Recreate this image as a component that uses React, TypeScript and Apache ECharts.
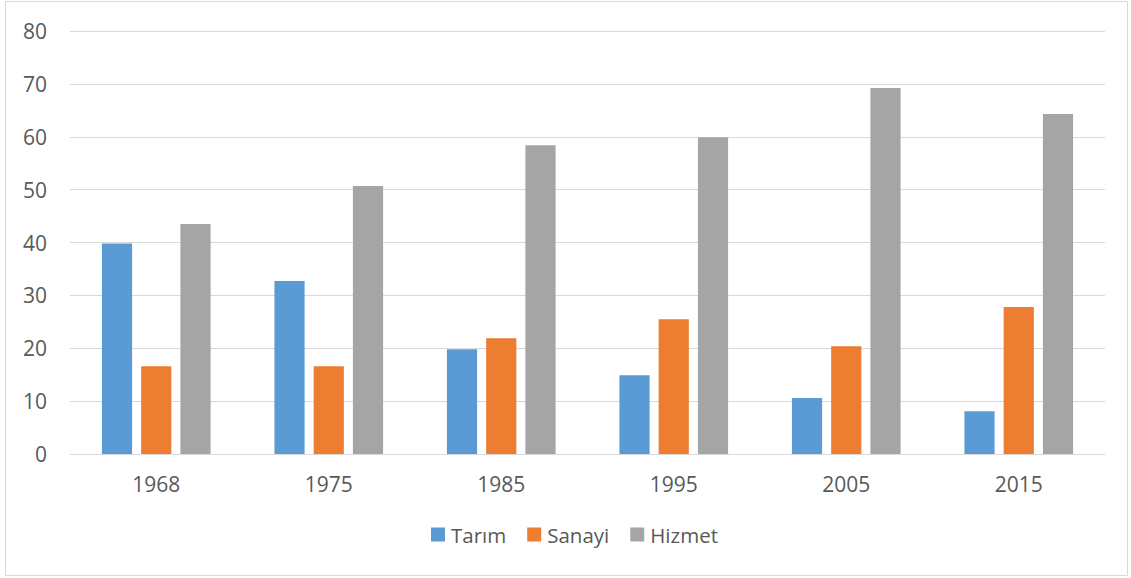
import React, { useEffect, useRef } from "react";
import * as echarts from "echarts";

const categories = ["1968", "1975", "1985", "1995", "2005", "2015"];
const tarim = [39.8, 32.7, 19.8, 14.9, 10.6, 8.1];
const sanayi = [16.6, 16.6, 21.9, 25.5, 20.4, 27.8];
const hizmet = [43.5, 50.7, 58.4, 59.9, 69.2, 64.3];

const FONT = "'Open Sans', 'Noto Sans', sans-serif";

export default function App() {
  const ref = useRef<HTMLDivElement>(null);
  useEffect(() => {
    const chart = echarts.init(ref.current!, undefined, { renderer: "svg" });
    const mk = (name: string, data: number[], color: string) => ({
      name,
      type: "bar",
      data,
      itemStyle: { color },
      barGap: "30%",
      barCategoryGap: "37%",
    });
    chart.setOption({
      animation: false,
      textStyle: { fontFamily: FONT },
      graphic: [
        {
          type: "rect",
          shape: { x: 5.5, y: 1.5, width: 1122, height: 574 },
          style: { fill: "none", stroke: "#d9d9d9", lineWidth: 1 },
          silent: true,
        },
      ],
      grid: { left: 70, right: 26, top: 31, bottom: 124 },
      legend: {
        bottom: 28,
        left: 426,
        padding: [5, 5, 5, 5],
        itemWidth: 14,
        itemHeight: 14,
        itemGap: 21,
        icon: "rect",
        textStyle: { color: "#595959", fontSize: 20.5, fontFamily: FONT, padding: [0, 0, 0, 1] },
        data: ["Tarım", "Sanayi", "Hizmet"],
      },
      xAxis: {
        type: "category",
        data: categories,
        axisLine: { lineStyle: { color: "#d9d9d9", width: 1 } },
        axisTick: { show: false },
        axisLabel: { color: "#595959", fontSize: 21, margin: 19, fontFamily: FONT },
      },
      yAxis: {
        type: "value",
        min: 0,
        max: 80,
        interval: 10,
        axisLine: { show: false },
        axisTick: { show: false },
        axisLabel: { color: "#595959", fontSize: 21, margin: 23, fontFamily: FONT },
        splitLine: { lineStyle: { color: "#d9d9d9", width: 1 } },
      },
      series: [
        mk("Tarım", tarim, "#5b9bd5"),
        mk("Sanayi", sanayi, "#ed7d31"),
        mk("Hizmet", hizmet, "#a5a5a5"),
      ],
    });
    return () => chart.dispose();
  }, []);
  return (
    <div
      ref={ref}
      style={{ position: "fixed", left: 0, top: 0, width: 1131, height: 578, background: "#fff" }}
    />
  );
}
